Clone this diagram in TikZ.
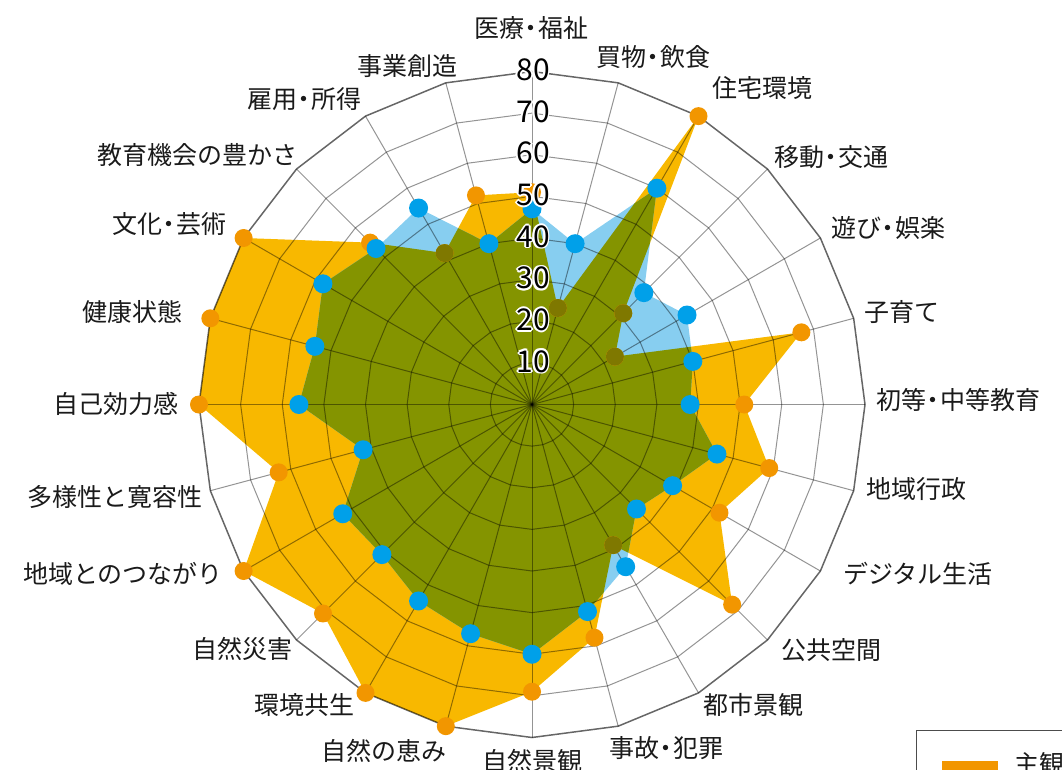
\documentclass[tikz,border=0pt]{standalone}
\usepackage{fontspec}
\setmainfont{Noto Sans CJK JP}
\definecolor{ofill}{RGB}{248,184,0}
\definecolor{omark}{RGB}{242,150,0}
\definecolor{bfill}{RGB}{135,206,240}
\definecolor{bmark}{RGB}{0,160,233}
\definecolor{olivefill}{RGB}{132,148,0}
\definecolor{olivemark}{RGB}{127,120,0}
\definecolor{labtext}{RGB}{26,26,26}
\newcommand\dt{\kern-0.22em・\kern-0.22em}
\newcommand\hcopy[3]{\makebox[0pt][l]{\kern#1\raisebox{#2}{\textcolor{white}{#3}}}}
\newcommand\halonum[1]{\hcopy{1.7pt}{0pt}{#1}\hcopy{-1.7pt}{0pt}{#1}\hcopy{0pt}{1.7pt}{#1}\hcopy{0pt}{-1.7pt}{#1}\hcopy{1.2pt}{1.2pt}{#1}\hcopy{-1.2pt}{1.2pt}{#1}\hcopy{1.2pt}{-1.2pt}{#1}\hcopy{-1.2pt}{-1.2pt}{#1}#1}
\begin{document}
\begin{tikzpicture}[x=1pt,y=-1pt,
  lab/.style={font=\fontsize{25}{25}\selectfont, inner sep=0pt, text=labtext},
  numlab/.style={font=\fontsize{30}{30}\selectfont, inner sep=0pt, text=black},
  gridl/.style={draw=black, draw opacity=0.42, line width=1pt},
  outerl/.style={draw=black, draw opacity=0.6, line width=1.5pt},
  legendbox/.style={draw=black!70, line width=1pt, fill=white}]
\useasboundingbox (0,0) rectangle (1062,769);
\clip (0,0) rectangle (1062,769);
\def\cx{532}\def\cy{404.5}\def\k{4.1625}
\coordinate (c) at (\cx,\cy);
% data
\foreach \v [count=\i from 0] in {51,24,80,31,23,67,51,59,52,68,39,58,69,80,80,71,80,63,80,80,80,55,42,52}
  {\coordinate (o\i) at ({\cx+\k*\v*sin(15*\i)},{\cy-\k*\v*cos(15*\i)});}
\foreach \v [count=\i from 0] in {47,40,60,38,43,40,38,46,39,35.5,45,51.5,60,57,54.5,51,52.5,42,56,54,58,53,54.5,40}
  {\coordinate (b\i) at ({\cx+\k*\v*sin(15*\i)},{\cy-\k*\v*cos(15*\i)});}
\foreach \i in {0,...,23}
  {\coordinate (v\i) at ({\cx+\k*80*sin(15*\i)},{\cy-\k*80*cos(15*\i)});}
% fills
\fill[ofill] (o0) \foreach \i in {1,...,23}{ -- (o\i)} -- cycle;
\fill[bfill] (b0) \foreach \i in {1,...,23}{ -- (b\i)} -- cycle;
\begin{scope}
  \clip (b0) \foreach \i in {1,...,23}{ -- (b\i)} -- cycle;
  \fill[olivefill] (o0) \foreach \i in {1,...,23}{ -- (o\i)} -- cycle;
\end{scope}
% grid
\foreach \r in {10,20,...,70}{
  \draw[gridl] ({\cx},{\cy-\k*\r}) \foreach \i in {1,...,23}{ -- ({\cx+\k*\r*sin(15*\i)},{\cy-\k*\r*cos(15*\i)}) } -- cycle;
}
\foreach \i in {0,...,23}{ \draw[gridl] (c) -- (v\i); }
\draw[outerl] (v0) \foreach \i in {1,...,23}{ -- (v\i)} -- cycle;
% orange markers
\foreach \i in {0,...,23}{ \fill[omark] (o\i) circle (9pt); }
\begin{scope}
  \clip (b0) \foreach \i in {1,...,23}{ -- (b\i)} -- cycle;
  \foreach \i in {0,...,23}{ \fill[olivemark] (o\i) circle (9pt); }
\end{scope}
% blue markers
\foreach \i in {0,...,23}{ \fill[bmark] (b\i) circle (9.5pt); }
% scale numbers with white halo
\foreach \n in {10,20,...,80}{
  \node[numlab] (n\n) at ({\cx+1},{\cy-\k*\n-1.5}) {\halonum{\n}};
}
% axis labels
\node[lab] (L0) at (531,28) {医療\dt 福祉};
\node[lab] (L1) at (653,57) {買物\dt 飲食};
\node[lab] (L2) at (762,88) {住宅環境};
\node[lab] (L3) at (831,157) {移動\dt 交通};
\node[lab] (L4) at (888,228) {遊び\dt 娯楽};
\node[lab] (L5) at (902,312) {子育て};
\node[lab] (L6) at (958,400) {初等\dt 中等教育};
\node[lab] (L7) at (916,489) {地域行政};
\node[lab] (L8) at (918,574) {デジタル生活};
\node[lab] (L9) at (831,650) {公共空間};
\node[lab] (L10) at (753,705) {都市景観};
\node[lab] (L11) at (666,748) {事故\dt 犯罪};
\node[lab] (L12) at (532,761) {自然景観};
\node[lab] (L13) at (384,751) {自然の恵み};
\node[lab] (L14) at (304,705) {環境共生};
\node[lab] (L15) at (242,649) {自然災害};
\node[lab] (L16) at (123,574) {地域とのつながり};
\node[lab] (L17) at (115,497) {多様性と寛容性};
\node[lab] (L18) at (116,404) {自己効力感};
\node[lab] (L19) at (132,312) {健康状態};
\node[lab] (L20) at (169,224) {文化\dt 芸術};
\node[lab] (L21) at (197,155) {教育機会の豊かさ};
\node[lab] (L22) at (304,99) {雇用\dt 所得};
\node[lab] (L23) at (407,66) {事業創造};
% legend (cut off)
\draw[legendbox] (916,730) rectangle (1080,800);
\coordinate (lg1) at (942,766);
\coordinate (lg2) at (998,766);
\draw[omark, line width=10pt] (lg1) -- (lg2);
\node[lab, anchor=west] (leg) at (1014,764) {主観};
\end{tikzpicture}
\end{document}
